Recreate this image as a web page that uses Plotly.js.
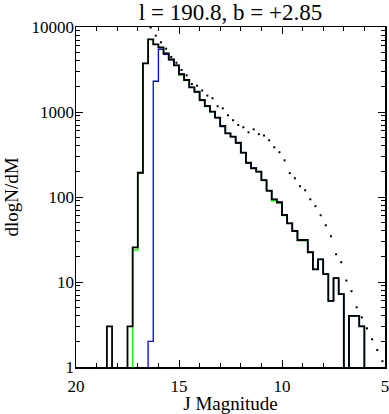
<!DOCTYPE html>
<html>
<head>
<meta charset="utf-8">
<script src="https://cdn.plot.ly/plotly-3.0.1.min.js"></script>
<style>
  html, body { margin: 0; padding: 0; background: #ffffff; }
  #chart { width: 389px; height: 414px; }
</style>
</head>
<body>
<div id="chart"></div>
<script>
// ---- Data ----
const chartTitle = "l = 190.8, b = +2.85";
const xTitle = "J Magnitude";
const yTitle = "dlogN/dM";

// faint-side edge of each 0.25 mag bin, plus the final bright edge
const binEdges = [20.0,19.75,19.5,19.25,19.0,18.75,18.5,18.25,18.0,17.75,
                  17.5,17.25,17.0,16.75,16.5,16.25,16.0,15.75,15.5,15.25,
                  15.0,14.75,14.5,14.25,14.0,13.75,13.5,13.25,13.0,12.75,
                  12.5,12.25,12.0,11.75,11.5,11.25,11.0,10.75,10.5,10.25,
                  10.0,9.75,9.5,9.25,9.0,8.75,8.5,8.25,8.0,7.75,
                  7.5,7.25,7.0,6.75,6.5,6.25,6.0,5.75,5.5,5.25,5.0];

// total counts (black)
const totalCounts = [0,0,0,0,0,0,3,0,0,0,
                     3,25.6,193,3740,7170,6250,5770,4900,4170,3540,
                     2780,2380,1950,1730,1385,1177,1008,857,684,561,
                     512,435,332,253,218,199,158,119,94,86.7,
                     61.4,49,39.8,31.2,31.2,22.4,14.1,18.5,12.4,6.0,
                     11.1,7.2,0,4,4,3,0,0,0,0];

// blue subset
const blueCounts = [0,0,0,0,0,0,0,0,0,0,
                    0,0,0,0,2,2300,5470,4775,4100,3540,
                    2780,2380,1950,1730,1385,1177,1008,857,675,561,
                    512,435,332,253,218,199,158,119,94,86.7,
                    61.4,49,39.8,31.2,31.2,22.4,14.1,18.5,12.4,6.0,
                    11.1,7.2,0,4,4,3,0,0,0,0];

// green subset
const greenCounts = [0,0,0,0,0,0,0,0,0,0,
                     0,23.8,190,3740,7170,6250,5770,4900,4170,3540,
                     2725,2335,1950,1730,1358,1154,1008,857,684,561,
                     512,435,332,253,218,199,155.5,116.7,90.4,84.3,
                     60.5,49,39.8,30.4,30.4,22.4,14.1,18.5,12.4,6.0,
                     11.1,7.2,0,4,4,3,0,0,0,0];

// dotted model (bin centres)
const modelMag = [16.375,16.125,15.875,15.625,15.375,15.125,14.875,14.625,14.375,14.125,
                  13.875,13.625,13.375,13.125,12.875,12.625,12.375,12.125,11.875,11.625,
                  11.375,11.125,10.875,10.625,10.375,10.125,9.875,9.625,9.375,9.125,
                  8.875,8.625,8.375,8.125,7.875,7.625,7.375,7.125,6.875,6.625,
                  6.375,6.125,5.875,5.625,5.375,5.125];
const modelVal = [9860,7900,6610,5550,4440,3800,3120,2700,2130,2040,
                  1790,1560,1450,1170,1105,915,800,703,661,577,
                  625,548,529,465,384,336,270,191,166,134,
                  120,94,78,61,46.5,34.5,21.2,17.1,10.4,7.8,
                  5.04,3.84,2.85,2.12,1.585,1.17];

const xTickVals = [20, 15, 10, 5];
const xTickText = ["20", "15", "10", "5"];
const yTickVals = [1, 10, 100, 1000, 10000];
const yTickText = ["1", "10", "100", "1000", "10000"];

// ---- Build step traces ----
const LOG_FLOOR = 0.3; // empty bins drawn below the axis floor (clipped)
function stepTrace(counts, color, width) {
  const y = counts.map(v => (v > 0 ? v : LOG_FLOOR));
  y.push(y[y.length - 1]);
  return {
    x: binEdges, y: y, type: "scatter", mode: "lines",
    line: { shape: "hv", color: color, width: width },
    hoverinfo: "skip"
  };
}

const minorY = [];
for (let d = 1; d < 10000; d *= 10) {
  for (let k = 2; k <= 9; k++) minorY.push(k * d);
}

const serif = "Liberation Serif, Times New Roman, serif";

const data = [
  stepTrace(greenCounts, "#00ff00", 1.3),
  stepTrace(blueCounts, "#0000ff", 1.3),
  stepTrace(totalCounts, "#000000", 1.8),
  {
    x: modelMag, y: modelVal, type: "scatter", mode: "markers",
    marker: { symbol: "square", size: 2, color: "#000000", line: { width: 0 } },
    hoverinfo: "skip"
  }
];

const layout = {
  width: 389, height: 414,
  margin: { l: 76, r: 4, t: 27, b: 47, pad: 0 },
  paper_bgcolor: "#ffffff", plot_bgcolor: "#ffffff",
  showlegend: false,
  font: { family: serif, color: "#000000", size: 16 },
  title: {
    text: chartTitle,
    font: { family: serif, size: 23, color: "#000000" },
    x: 0.5, xref: "paper", xanchor: "center",
    y: 0.971, yref: "container", yanchor: "middle"
  },
  xaxis: {
    range: [20, 5], autorange: false,
    tickmode: "array", tickvals: xTickVals, ticktext: xTickText,
    ticks: "inside", ticklen: 7, tickwidth: 1, tickcolor: "#000000",
    minor: { dtick: 1, tick0: 0, ticks: "inside", ticklen: 4, tickwidth: 1, tickcolor: "#000000", showgrid: false },
    showline: true, linecolor: "#000000", linewidth: 1.5, mirror: "ticks",
    showgrid: false, zeroline: false,
    ticklabeloverflow: "allow",
    ticklabelstandoff: 3,
    tickfont: { family: serif, size: 17 },
    title: { text: xTitle, font: { family: serif, size: 19 }, standoff: 0 }
  },
  yaxis: {
    type: "log", range: [0, 4], autorange: false,
    tickmode: "array", tickvals: yTickVals, ticktext: yTickText,
    ticks: "inside", ticklen: 7, tickwidth: 1, tickcolor: "#000000",
    minor: { tickmode: "array", tickvals: minorY, ticks: "inside", ticklen: 4, tickwidth: 1, tickcolor: "#000000", showgrid: false },
    showline: true, linecolor: "#000000", linewidth: 1.5, mirror: "ticks",
    showgrid: false, zeroline: false,
    tickfont: { family: serif, size: 17 },
    ticklabelstandoff: -3,
    title: { text: yTitle, font: { family: serif, size: 19 }, standoff: 8 }
  }
};

Plotly.newPlot("chart", data, layout, { staticPlot: true, displayModeBar: false });
</script>
</body>
</html>
